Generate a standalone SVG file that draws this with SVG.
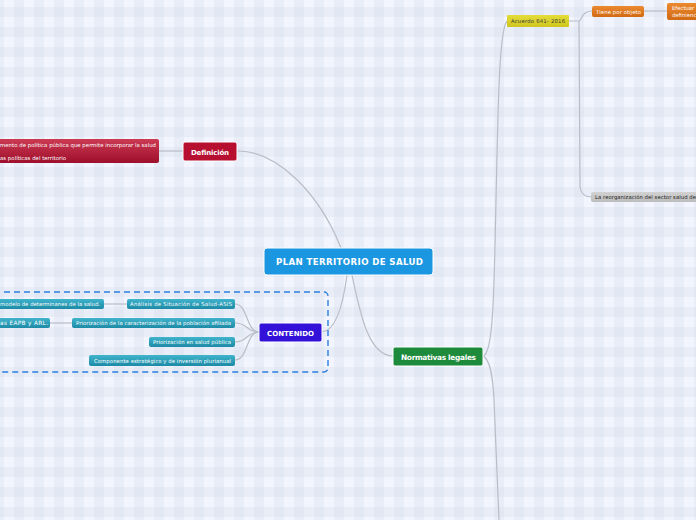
<svg xmlns="http://www.w3.org/2000/svg" width="696" height="520" viewBox="0 0 696 520">
<defs>
<pattern id="grid" x="4" y="-3" width="20" height="20" patternUnits="userSpaceOnUse">
<rect width="20" height="20" fill="#f2f5fe"/>
<rect x="10" y="0" width="10" height="20" fill="#c4cde0" fill-opacity="0.2"/>
<rect x="0" y="10" width="20" height="10" fill="#c4cde0" fill-opacity="0.2"/>
</pattern>
<linearGradient id="gRed" x1="0" y1="0" x2="0" y2="1"><stop offset="0" stop-color="#cc3a52"/><stop offset="1" stop-color="#9e0f2c"/></linearGradient>
<linearGradient id="gTeal" x1="0" y1="0" x2="0" y2="1"><stop offset="0" stop-color="#40b4cc"/><stop offset="1" stop-color="#1d8aa6"/></linearGradient>
<linearGradient id="gOr" x1="0" y1="0" x2="0" y2="1"><stop offset="0" stop-color="#ec8a30"/><stop offset="1" stop-color="#d06a14"/></linearGradient>
<linearGradient id="gYel" x1="0" y1="0" x2="0" y2="1"><stop offset="0" stop-color="#e4dc3a"/><stop offset="1" stop-color="#cfc61c"/></linearGradient>
<linearGradient id="gGray" x1="0" y1="0" x2="0" y2="1"><stop offset="0" stop-color="#d2d2d2"/><stop offset="1" stop-color="#bcbcbc"/></linearGradient>
</defs>
<style>
.t{font-family:"DejaVu Sans",Verdana,sans-serif;}
.main{font-weight:bold;fill:#fff;}
.sub{fill:#fff;}
.con{fill:none;stroke:#b9bdc6;stroke-width:1.2;}
.box{stroke:#fff;stroke-width:1;}
</style>
<rect width="696" height="520" fill="url(#grid)"/>

<g id="connectors">
<path class="con" d="M237,151 C278,150 320,195 341,248"/>
<path class="con" d="M347,275 C343,305 336,331 322,332"/>
<path class="con" d="M352,275 C360,312 368,356 393,356"/>
<path class="con" d="M183,151 L159,151"/>
<path class="con" d="M259,332 C246,332 248,304 235,304"/>
<path class="con" d="M259,332 C246,332 248,323 235,323"/>
<path class="con" d="M259,332 C246,332 248,342 235,342"/>
<path class="con" d="M259,332 C246,332 248,360 235,360"/>
<path class="con" d="M127,304 L104,304"/>
<path class="con" d="M72,323 L50,323"/>
<path class="con" d="M483,356 C493,354 494,300 496,200 C498,110 499,30 507,21"/>
<path class="con" d="M483,356 C491,360 493,380 494,400 L499,520"/>
<path class="con" d="M569,21 L579,21 C582,21 581,11 592,11"/>
<path class="con" d="M579,21 L580,185 C580,192 584,197 592,197"/>
<path class="con" d="M644,11 L667,11"/>
</g>

<g id="contenido-frame">
<rect x="-10" y="292" width="338" height="80" rx="4" fill="none" stroke="#2b7fe0" stroke-width="1.4" stroke-dasharray="6,4"/>
</g>

<g id="central">
<rect class="box" x="264" y="248" width="169" height="27" rx="3" fill="#1b96e1"/>
<text class="t main" x="276" y="265" font-size="8.6" textLength="147" lengthAdjust="spacing">PLAN TERRITORIO DE SALUD</text>
</g>

<g id="definicion">
<rect class="box" x="183" y="142" width="54" height="19" rx="2" fill="#b70f30"/>
<text class="t main" x="191" y="154.5" font-size="7" textLength="38" lengthAdjust="spacing">Definición</text>
</g>
<g id="definicion-desc">
<rect x="-10" y="139" width="169" height="24" rx="2" fill="url(#gRed)"/>
<text class="t sub" x="0" y="147" font-size="5.4" textLength="156" lengthAdjust="spacing">mento de política pública que permite incorporar la salud</text>
<text class="t sub" x="0" y="160" font-size="5.4" textLength="66" lengthAdjust="spacing">as políticas del territorio</text>
</g>

<g id="contenido">
<rect class="box" x="259" y="323" width="63" height="19" rx="2" fill="#3311d9"/>
<text class="t main" x="267" y="335.5" font-size="7" textLength="47" lengthAdjust="spacing">CONTENIDO</text>
</g>
<g id="asis">
<rect x="127" y="299" width="108" height="10" rx="2" fill="url(#gTeal)"/>
<text class="t sub" x="130" y="306" font-size="5.3" textLength="102" lengthAdjust="spacing">Análisis de Situación de  Salud-ASIS</text>
</g>
<g id="asis-desc">
<rect x="-10" y="299" width="114" height="10" rx="2" fill="url(#gTeal)"/>
<text class="t sub" x="0" y="306" font-size="5.3" textLength="100" lengthAdjust="spacing">modelo de determinanes de la salud.</text>
</g>
<g id="priorizacion-caracterizacion">
<rect x="72" y="318" width="163" height="10" rx="2" fill="url(#gTeal)"/>
<text class="t sub" x="76" y="325" font-size="5.3" textLength="155" lengthAdjust="spacing">Priorización de la caracterización de la población afiliada</text>
</g>
<g id="priorizacion-desc">
<rect x="-10" y="318" width="60" height="10" rx="2" fill="url(#gTeal)"/>
<text class="t sub" x="0" y="325" font-size="5.8" textLength="48" lengthAdjust="spacing">as EAPB y ARL.</text>
</g>
<g id="priorizacion-salud">
<rect x="149" y="337" width="86" height="10" rx="2" fill="url(#gTeal)"/>
<text class="t sub" x="153" y="344" font-size="5.3" textLength="78" lengthAdjust="spacing">Priorización en salud pública</text>
</g>
<g id="componente">
<rect x="89" y="355" width="146" height="11" rx="2" fill="url(#gTeal)"/>
<text class="t sub" x="94" y="362.5" font-size="5.3" textLength="137" lengthAdjust="spacing">Componente estratégico y de inversión plurianual</text>
</g>

<g id="normativas">
<rect class="box" x="393" y="347" width="90" height="19" rx="2" fill="#1d8b3b"/>
<text class="t main" x="401" y="359.5" font-size="7.4" textLength="75" lengthAdjust="spacing">Normativas legales</text>
</g>
<g id="acuerdo">
<rect x="507" y="15" width="62" height="12" rx="1" fill="url(#gYel)"/>
<text class="t" x="511" y="23" font-size="5.3" fill="#333" textLength="54" lengthAdjust="spacing">Acuerdo 641- 2016</text>
</g>
<g id="tiene">
<rect x="592" y="6" width="52" height="11" rx="2" fill="url(#gOr)"/>
<text class="t sub" x="596" y="13.5" font-size="5.3" textLength="45" lengthAdjust="spacing">Tiene por objeto</text>
</g>
<g id="efectuar">
<rect x="667" y="3" width="40" height="17" rx="2" fill="url(#gOr)"/>
<text class="t sub" x="672" y="10" font-size="5.3">Efectuar</text>
<text class="t sub" x="672" y="16.5" font-size="5.3">definienc</text>
</g>
<g id="reorganizacion">
<rect x="591" y="192" width="115" height="10" rx="2" fill="url(#gGray)"/>
<text class="t" x="595" y="199" font-size="5.3" fill="#222" textLength="101" lengthAdjust="spacing">La reorganización del sector salud de</text>
</g>
</svg>
